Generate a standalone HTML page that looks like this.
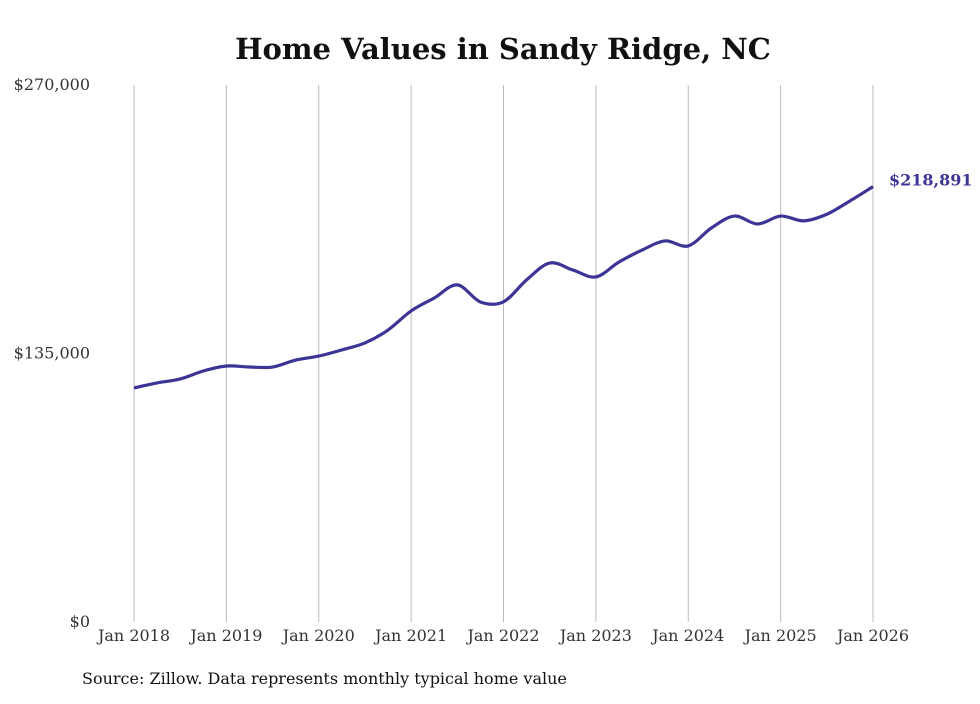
<!DOCTYPE html>
<html><head><meta charset="utf-8"><style>
body{margin:0;background:#fff;}
svg text{font-family:"DejaVu Serif","Liberation Serif",serif;}
</style></head><body>
<svg width="980" height="699">
<text x="503" y="59" text-anchor="middle" font-size="29" font-weight="bold" fill="#111">Home Values in Sandy Ridge, NC</text>
<g id="grid"></g>
<g id="yax"></g>
<g id="xax"></g>
<path id="line" fill="none" stroke="#3c3596" stroke-width="3.2" stroke-linejoin="round"/>
<text id="endlabel" font-size="16" font-weight="bold" fill="#3c3596"></text>
<text x="82" y="684" font-size="16" fill="#111">Source: Zillow. Data represents monthly typical home value</text>
</svg>
<script>
const xLabels=["Jan 2018","Jan 2019","Jan 2020","Jan 2021","Jan 2022","Jan 2023","Jan 2024","Jan 2025","Jan 2026"];
const yTicks=[0,135000,270000];
const yTickLabels=["$0","$135,000","$270,000"];
// quarterly values, index 0 = Jan 2018
const values=[117700,120200,122200,126200,128700,128200,128200,131700,133700,136800,140300,146800,156400,162900,169500,160900,161000,172000,180500,177000,173500,181000,187000,191600,189100,198100,204100,200100,204100,201700,205000,211700,218891];
const endLabel="$218,891";
const NS="http://www.w3.org/2000/svg";
const x=q=>134+q*(739/32);
const y=v=>622-v/270000*537;
function mk(t,a,p){const e=document.createElementNS(NS,t);for(const k in a)e.setAttribute(k,a[k]);p.appendChild(e);return e;}
const grid=document.getElementById('grid'),xax=document.getElementById('xax'),yax=document.getElementById('yax');
xLabels.forEach((l,i)=>{
 const gx=x(i*4);
 const ln=mk('line',{x1:gx,x2:gx,y1:85,y2:622,stroke:'#bbb','stroke-width':1},grid);
 
 
 const t=mk('text',{x:gx,y:641,'text-anchor':'middle','font-size':16,fill:'#333'},xax);
 t.textContent=l;
 
 
});
yTicks.forEach((v,i)=>{
 const t=mk('text',{x:90,y:y(v)+5,'text-anchor':'end','font-size':16,fill:'#333'},yax);
 t.textContent=yTickLabels[i];
 
 
});
const pts=values.map((v,i)=>[x(i),y(v)]);
let d=`M${pts[0][0]},${pts[0][1]}`;
for(let i=0;i<pts.length-1;i++){
 const p0=pts[Math.max(0,i-1)],p1=pts[i],p2=pts[i+1],p3=pts[Math.min(pts.length-1,i+2)];
 const c1=[p1[0]+(p2[0]-p0[0])/6,p1[1]+(p2[1]-p0[1])/6];
 const c2=[p2[0]-(p3[0]-p1[0])/6,p2[1]-(p3[1]-p1[1])/6];
 d+=` C${c1[0]},${c1[1]} ${c2[0]},${c2[1]} ${p2[0]},${p2[1]}`;
}
document.getElementById('line').setAttribute('d',d);
const el=document.getElementById('endlabel');
const last=pts[pts.length-1];
el.setAttribute('x',last[0]+16);el.setAttribute('y',last[1]-1);el.textContent=endLabel;
</script>
</body></html>
